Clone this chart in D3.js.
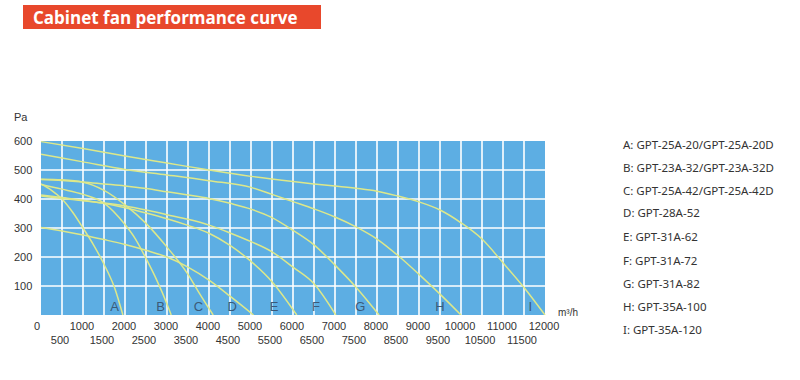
<!DOCTYPE html>
<html><head><meta charset="utf-8">
<script src="https://cdn.jsdelivr.net/npm/d3@7"></script>
<style>
body{margin:0;background:#fff;}
svg{display:block;}
</style></head>
<body>
<svg id="chart" width="800" height="380"></svg>
<script>
// ---- data ----
const title = "Cabinet fan performance curve";
const curveLetters = ["A","B","C","D","E","F","G","H","I"];
const legendLabels = [
  "A: GPT-25A-20/GPT-25A-20D",
  "B: GPT-23A-32/GPT-23A-32D",
  "C: GPT-25A-42/GPT-25A-42D",
  "D: GPT-28A-52",
  "E: GPT-31A-62",
  "F: GPT-31A-72",
  "G: GPT-31A-82",
  "H: GPT-35A-100",
  "I: GPT-35A-120"
];
// [flow m3/h, pressure Pa]
const curveA = [[0,452],[250,430],[500,400],[750,355],[1000,300],[1250,242],[1500,175],[1750,95],[1950,0]];
const curveB = [[0,450],[500,434],[1000,416],[1500,386],[2000,312],[2250,262],[2500,195],[2750,122],[3000,38],[3100,0]];
const curveC = [[0,468],[500,466],[1000,458],[1500,430],[2000,380],[2500,316],[3000,234],[3500,140],[3750,80],[4100,0]];
const curveD = [[0,302],[500,290],[1000,276],[1500,260],[2000,243],[2500,223],[3000,200],[3500,165],[4000,120],[4500,65],[5060,0]];
const curveE = [[0,414],[500,405],[1000,396],[1500,385],[2000,370],[2500,352],[3000,332],[3500,309],[4000,282],[4500,240],[5000,185],[5500,115],[6090,0]];
const curveF = [[0,410],[500,402],[1000,394],[1500,386],[2000,376],[2500,362],[3000,346],[3500,330],[4000,310],[4500,283],[5000,253],[5500,218],[6000,165],[6500,108],[7020,0]];
const curveG = [[0,467],[500,464],[1000,459],[1500,452],[2000,445],[2500,436],[3000,425],[3500,414],[4000,402],[4500,385],[5000,365],[5500,336],[6000,292],[6500,242],[7000,172],[7500,96],[8050,0]];
const curveH = [[0,554],[1000,528],[2000,502],[3000,483],[4000,463],[5000,440],[5500,416],[6000,391],[6500,366],[7000,338],[7500,304],[8000,262],[8500,205],[9000,140],[9500,72],[10000,0]];
const curveI = [[0,598],[1000,574],[2000,548],[3000,524],[4000,500],[5000,478],[6000,460],[6500,452],[7000,445],[7500,437],[8000,427],[8500,410],[9000,390],[9500,362],[10000,318],[10500,262],[11000,180],[11500,95],[12000,0]];
const curves = [curveA,curveB,curveC,curveD,curveE,curveF,curveG,curveH,curveI];
const letterFlow = [1750,2850,3750,4550,5550,6550,7600,9500,11650];
const xTicksMajor = [0,1000,2000,3000,4000,5000,6000,7000,8000,9000,10000,11000,12000];
const xTicksMinor = [500,1500,2500,3500,4500,5500,6500,7500,8500,9500,10500,11500];
const yTicks = [100,200,300,400,500,600];
const yUnit = "Pa";
const xUnit = "m³/h";

// ---- drawing ----
const svg = d3.select("#chart");
const plot = {left:41, right:545, top:141, bottom:315};
const x = d3.scaleLinear().domain([0,12000]).range([plot.left, plot.right]);
const y = d3.scaleLinear().domain([0,600]).range([plot.bottom, plot.top]);

// title box
svg.append("rect").attr("x",23).attr("y",5).attr("width",298).attr("height",24).attr("fill","#e8482c");
svg.append("text").attr("x",33).attr("y",23.5).text(title)
  .attr("fill","#fff").attr("font-family","'Open Sans', 'Noto Sans', sans-serif")
  .attr("font-weight","bold").attr("font-size",17);

// plot background
svg.append("rect").attr("x",plot.left).attr("y",plot.top)
  .attr("width",plot.right-plot.left).attr("height",plot.bottom-plot.top).attr("fill","#5daee3");

// grid
const gridX = d3.range(500,12000,500);
svg.append("g").selectAll("line").data(gridX).join("line")
  .attr("x1",d=>x(d)).attr("x2",d=>x(d)).attr("y1",plot.top).attr("y2",plot.bottom)
  .attr("stroke","#fff").attr("stroke-width",1.6);
svg.append("g").selectAll("line").data([100,200,300,400,500]).join("line")
  .attr("x1",plot.left).attr("x2",plot.right).attr("y1",d=>y(d)).attr("y2",d=>y(d))
  .attr("stroke","#fff").attr("stroke-width",1.6);

// curves
svg.append("clipPath").attr("id","clip").append("rect")
  .attr("x",plot.left).attr("y",plot.top-2).attr("width",plot.right-plot.left+1).attr("height",plot.bottom-plot.top+2);
const line = d3.line().x(d=>x(d[0])).y(d=>y(d[1])).curve(d3.curveMonotoneX);
svg.append("g").attr("clip-path","url(#clip)").selectAll("path").data(curves).join("path")
  .attr("d",line).attr("fill","none").attr("stroke","#dde88a").attr("stroke-width",1.5);

// curve letters
svg.append("g").selectAll("text").data(curveLetters).join("text")
  .attr("x",(d,i)=>x(letterFlow[i])).attr("y",y(0)-4).attr("text-anchor","middle")
  .text(d=>d).attr("fill","#3b5a78").attr("font-size",13)
  .attr("font-family","'Liberation Sans Narrow','Liberation Sans', Arial, sans-serif");

// axes labels
const tickFont = "'Liberation Sans', Arial, sans-serif";
svg.append("g").selectAll("text").data(yTicks).join("text")
  .attr("x",14).attr("y",d=>y(d)+4).text(d=>d)
  .attr("fill","#333").attr("font-size",11).attr("font-family",tickFont);
svg.append("text").attr("x",14).attr("y",121).text(yUnit)
  .attr("fill","#333").attr("font-size",11).attr("font-family",tickFont);
svg.append("g").selectAll("text").data(xTicksMajor).join("text")
  .attr("x",d=>x(d)-(d===0?4:1)).attr("y",330).attr("text-anchor","middle").text(d=>d)
  .attr("fill","#333").attr("font-size",11).attr("font-family",tickFont);
svg.append("g").selectAll("text").data(xTicksMinor).join("text")
  .attr("x",d=>x(d)-2).attr("y",344).attr("text-anchor","middle").text(d=>d)
  .attr("fill","#333").attr("font-size",11).attr("font-family",tickFont);
svg.append("text").attr("x",558).attr("y",316).text(xUnit)
  .attr("fill","#333").attr("font-size",10).attr("font-family",tickFont);

// legend
const legendY = [145,168,191,213,237,261,284,307,330];
svg.append("g").selectAll("text").data(legendLabels).join("text")
  .attr("x",623).attr("y",(d,i)=>legendY[i]+4).text(d=>d)
  .attr("fill","#333").attr("font-size",11.5).attr("font-family","'Noto Sans', sans-serif");
</script>
</body></html>
